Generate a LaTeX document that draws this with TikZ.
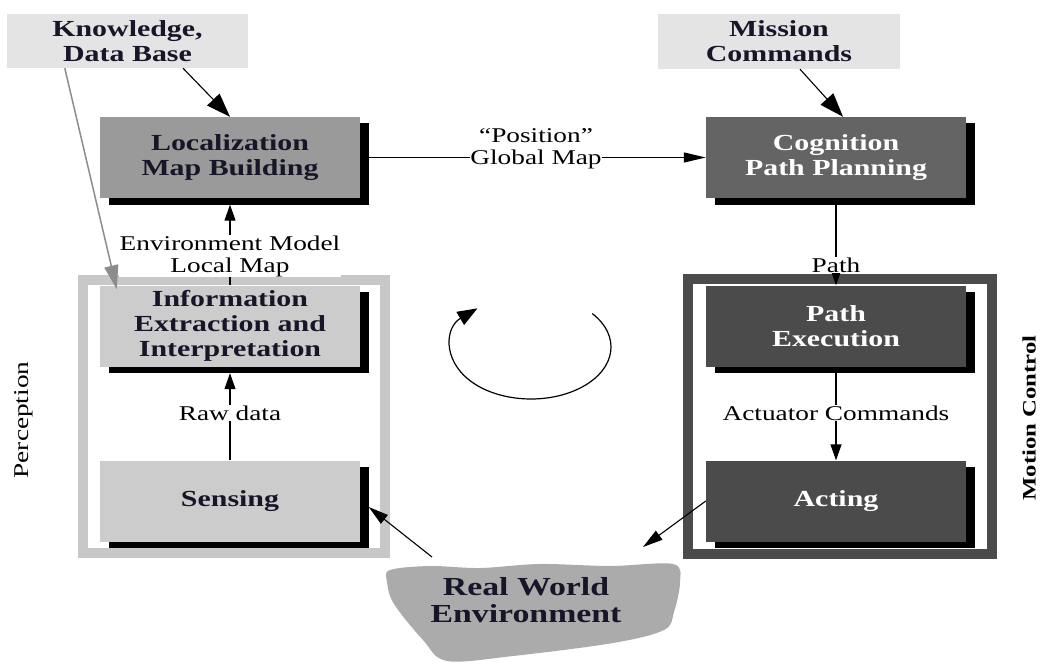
\documentclass[tikz,border=0pt]{standalone}
\usepackage{fontspec}
\setmainfont{Liberation Serif}[FakeStretch=1.3]
\usetikzlibrary{arrows.meta,shadows,calc}
\definecolor{inkd}{HTML}{161628}
\definecolor{lightbox}{HTML}{E4E4E4}
\definecolor{locfill}{HTML}{9A9A9A}
\definecolor{cogfill}{HTML}{646464}
\definecolor{percfill}{HTML}{CCCCCC}
\definecolor{percframe}{HTML}{C8C8C8}
\definecolor{motfill}{HTML}{4B4B4B}
\definecolor{rwfill}{HTML}{ABABAB}
\definecolor{grayarrow}{HTML}{8C8C8C}
\tikzset{
  boxtext/.style={font=\bfseries\fontsize{23pt}{25pt}\selectfont, align=center},
  srcbox/.style={boxtext, fill=lightbox, text=inkd, inner sep=0pt},
  mainbox/.style={boxtext, minimum width=260pt, minimum height=81pt, inner sep=0pt,
     drop shadow={shadow xshift=8.5pt, shadow yshift=-6.5pt, fill=black, opacity=1}},
  lightmain/.style={mainbox, text=inkd},
  darkmain/.style={mainbox, text=white},
  lbl/.style={font=\fontsize{21pt}{22pt}\selectfont, fill=white, inner sep=0.5pt, text=black},
  conn/.style={line width=1.1pt, draw=black},
  bigtip/.style={-{Triangle[length=24pt,width=17pt]}},
  midtip/.style={-{Triangle[length=20pt,width=11pt]}},
  smalltip/.style={-{Triangle[length=16pt,width=11pt]}},
}
\begin{document}
\begin{tikzpicture}[x=1pt,y=-1pt]
\useasboundingbox (0,0) rectangle (1043,666);

% frames
\node[draw=percframe, line width=10pt, minimum width=302.5pt, minimum height=273pt, inner sep=0pt] (pframe) at (233.75,416.5) {};
\node[draw=motfill, line width=9.5pt, minimum width=304pt, minimum height=275pt, inner sep=0pt] (mframe) at (840,416.5) {};

% source boxes
\node[srcbox, minimum width=241pt, minimum height=54pt] (know) at (127.5,41) {Knowledge,\\Data Base};
\node[srcbox, minimum width=242pt, minimum height=55pt] (miss) at (779,41.5) {Mission\\Commands};

% main boxes
\node[lightmain, fill=locfill] (loc) at (230,157.5) {Localization\\Map Building};
\node[darkmain, fill=cogfill] (cog) at (836,157.5) {Cognition\\Path Planning};
\node[lightmain, fill=percfill] (info) at (230,326) {Information\\Extraction and\\Interpretation};
\node[lightmain, fill=percfill] (sens) at (230,501) {Sensing};
\node[darkmain, fill=motfill] (pexe) at (836,326) {Path\\Execution};
\node[darkmain, fill=motfill] (act) at (836,501) {Acting};

% real world blob
\draw[draw=none, fill=rwfill] plot[smooth cycle, tension=0.55] coordinates {
  (390,570) (430,566) (480,568) (540,564) (610,566) (673,564) (680,582)
  (674,612) (664,630) (613,643) (513,656) (447,661) (423,640) (394,604) (387,582)};
\node[font=\bfseries\fontsize{26pt}{27pt}\selectfont, align=center, text=inkd] (rw) at (526,600) {Real World\\Environment};
\coordinate (rwL) at (432,557);
\coordinate (rwR) at (643,547);

% rotated labels
\node[rotate=90, font=\fontsize{21pt}{22pt}\selectfont, text=black] (perc) at (24,420) {Perception};
\node[rotate=90, font=\bfseries\fontsize{19pt}{22pt}\selectfont, text=black] (motc) at (1029,418) {Motion Control};

% connectors
\draw[conn, bigtip] ($(know.south)+(55.5,0)$) -- (loc.north);
\draw[conn, bigtip] ($(miss.south)+(21,0)$) -- ($(cog.north)+(7,0)$);

\draw[conn, -{Triangle[length=22pt,width=10pt]}] (loc.east) -- (cog.west);
\draw[conn, smalltip] (info.north) -- ($(loc.south)+(0,6.5)$);
\draw[conn, smalltip] (sens.north) -- ($(info.south)+(0,6.5)$);
\draw[conn, smalltip] ($(cog.south)+(0,6.5)$) -- (pexe.north);
\draw[conn, smalltip] ($(pexe.south)+(0,6.5)$) -- (act.north);
\draw[conn, midtip] (act.west) -- (rwR);
\draw[conn, midtip] (rwL) -- ($(sens.east)+(8.5,6)$);

% connector labels
\node[lbl, align=center] (posl) at (536,149) {``Position''\\Global Map};
\node[lbl, align=center] (envl) at (230,256) {Environment Model\\Local Map};
\node[lbl] (rawl) at (230,413) {Raw data};
\node[lbl] (pathl) at (836,265) {Path};
\node[lbl] (actl) at (836,413) {Actuator Commands};

% gray arrow
\draw[line width=1.5pt, draw=grayarrow, -{Triangle[length=24pt,width=14pt]}, grayarrow] ($(know.south west)+(58,0)$) -- ($(info.north west)+(17,4)$);

% cycle arrow
\coordinate (cyc) at (531,347);
\draw[line width=1.2pt, -{Triangle[length=20pt,width=15pt]}] ($(cyc)+(40:80pt and 52pt)$) arc[start angle=40, end angle=-228, x radius=80pt, y radius=52pt];
\end{tikzpicture}
\end{document}
